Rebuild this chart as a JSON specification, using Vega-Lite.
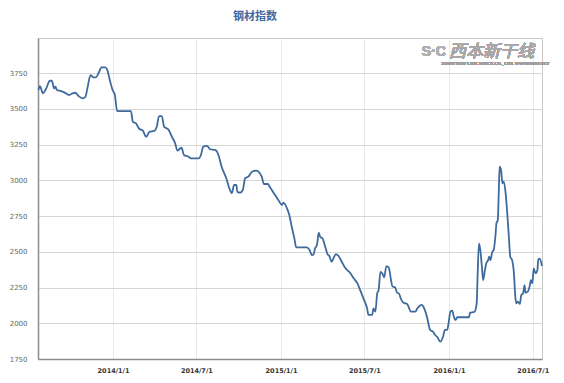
{
  "$schema": "https://vega.github.io/schema/vega-lite/v6.json",
  "autosize": "none",
  "width": 504,
  "height": 321,
  "padding": {"left": 38, "top": 38, "right": 22, "bottom": 24},
  "background": "white",
  "title": {"text": "钢材指数", "anchor": "middle", "frame": "group", "dx": -35, "offset": 16, "fontSize": 11, "font": "Noto Sans CJK SC", "fontWeight": "bold", "color": "#3d6a9f"},
  "config": {"view": {"stroke": "#c8c8c8", "strokeWidth": 1}},
  "data": {"values": [
    {"date": "2013-07-23", "value": 3631}, {"date": "2013-07-26", "value": 3659}, {"date": "2013-08-02", "value": 3608},
    {"date": "2013-08-08", "value": 3636}, {"date": "2013-08-17", "value": 3696}, {"date": "2013-08-21", "value": 3696},
    {"date": "2013-08-26", "value": 3643}, {"date": "2013-08-29", "value": 3654}, {"date": "2013-09-01", "value": 3631},
    {"date": "2013-09-10", "value": 3624}, {"date": "2013-09-17", "value": 3615}, {"date": "2013-09-28", "value": 3596},
    {"date": "2013-10-05", "value": 3608}, {"date": "2013-10-11", "value": 3612}, {"date": "2013-10-18", "value": 3589},
    {"date": "2013-10-27", "value": 3573}, {"date": "2013-11-02", "value": 3584}, {"date": "2013-11-07", "value": 3654},
    {"date": "2013-11-13", "value": 3736}, {"date": "2013-11-19", "value": 3720}, {"date": "2013-11-25", "value": 3720},
    {"date": "2013-12-01", "value": 3752}, {"date": "2013-12-07", "value": 3790}, {"date": "2013-12-15", "value": 3790},
    {"date": "2013-12-19", "value": 3776}, {"date": "2013-12-25", "value": 3701}, {"date": "2013-12-31", "value": 3631},
    {"date": "2014-01-05", "value": 3596}, {"date": "2014-01-10", "value": 3484}, {"date": "2014-02-09", "value": 3484},
    {"date": "2014-02-13", "value": 3409}, {"date": "2014-02-20", "value": 3398}, {"date": "2014-02-26", "value": 3363},
    {"date": "2014-03-07", "value": 3346}, {"date": "2014-03-14", "value": 3304}, {"date": "2014-03-21", "value": 3339},
    {"date": "2014-04-01", "value": 3346}, {"date": "2014-04-06", "value": 3374}, {"date": "2014-04-11", "value": 3449},
    {"date": "2014-04-17", "value": 3449}, {"date": "2014-04-22", "value": 3374}, {"date": "2014-05-01", "value": 3356},
    {"date": "2014-05-09", "value": 3304}, {"date": "2014-05-16", "value": 3258}, {"date": "2014-05-21", "value": 3207},
    {"date": "2014-05-27", "value": 3223}, {"date": "2014-05-30", "value": 3228}, {"date": "2014-06-04", "value": 3177},
    {"date": "2014-06-14", "value": 3165}, {"date": "2014-06-19", "value": 3153}, {"date": "2014-07-06", "value": 3153},
    {"date": "2014-07-11", "value": 3177}, {"date": "2014-07-16", "value": 3235}, {"date": "2014-07-24", "value": 3240},
    {"date": "2014-07-31", "value": 3217}, {"date": "2014-08-11", "value": 3212}, {"date": "2014-08-18", "value": 3177},
    {"date": "2014-08-25", "value": 3095}, {"date": "2014-09-04", "value": 3014}, {"date": "2014-09-12", "value": 2932},
    {"date": "2014-09-16", "value": 2909}, {"date": "2014-09-21", "value": 2967}, {"date": "2014-09-26", "value": 2967},
    {"date": "2014-09-28", "value": 2920}, {"date": "2014-10-04", "value": 2913}, {"date": "2014-10-10", "value": 2932},
    {"date": "2014-10-15", "value": 3014}, {"date": "2014-10-22", "value": 3025}, {"date": "2014-10-30", "value": 3060},
    {"date": "2014-11-08", "value": 3067}, {"date": "2014-11-13", "value": 3060}, {"date": "2014-11-20", "value": 3025},
    {"date": "2014-11-25", "value": 2974}, {"date": "2014-12-03", "value": 2974}, {"date": "2014-12-08", "value": 2951},
    {"date": "2014-12-19", "value": 2897}, {"date": "2014-12-27", "value": 2857}, {"date": "2015-01-03", "value": 2827},
    {"date": "2015-01-06", "value": 2843}, {"date": "2015-01-14", "value": 2804}, {"date": "2015-01-19", "value": 2757},
    {"date": "2015-01-25", "value": 2664}, {"date": "2015-01-30", "value": 2594}, {"date": "2015-02-03", "value": 2531},
    {"date": "2015-02-26", "value": 2531}, {"date": "2015-03-04", "value": 2512}, {"date": "2015-03-09", "value": 2477},
    {"date": "2015-03-13", "value": 2484}, {"date": "2015-03-16", "value": 2524}, {"date": "2015-03-20", "value": 2547},
    {"date": "2015-03-24", "value": 2633}, {"date": "2015-03-27", "value": 2605}, {"date": "2015-04-01", "value": 2594},
    {"date": "2015-04-07", "value": 2535}, {"date": "2015-04-12", "value": 2484}, {"date": "2015-04-16", "value": 2470},
    {"date": "2015-04-21", "value": 2430}, {"date": "2015-04-25", "value": 2454}, {"date": "2015-04-30", "value": 2484},
    {"date": "2015-05-06", "value": 2470}, {"date": "2015-05-13", "value": 2430}, {"date": "2015-05-21", "value": 2384},
    {"date": "2015-05-31", "value": 2353}, {"date": "2015-06-08", "value": 2314}, {"date": "2015-06-16", "value": 2279},
    {"date": "2015-06-22", "value": 2232}, {"date": "2015-06-29", "value": 2174}, {"date": "2015-07-07", "value": 2104},
    {"date": "2015-07-10", "value": 2058}, {"date": "2015-07-18", "value": 2058}, {"date": "2015-07-21", "value": 2104},
    {"date": "2015-07-25", "value": 2081}, {"date": "2015-07-29", "value": 2209}, {"date": "2015-08-01", "value": 2232},
    {"date": "2015-08-05", "value": 2360}, {"date": "2015-08-11", "value": 2337}, {"date": "2015-08-13", "value": 2321},
    {"date": "2015-08-18", "value": 2400}, {"date": "2015-08-23", "value": 2391}, {"date": "2015-08-28", "value": 2302},
    {"date": "2015-08-31", "value": 2258}, {"date": "2015-09-06", "value": 2251}, {"date": "2015-09-10", "value": 2214},
    {"date": "2015-09-14", "value": 2209}, {"date": "2015-09-19", "value": 2167}, {"date": "2015-09-24", "value": 2144},
    {"date": "2015-10-02", "value": 2135}, {"date": "2015-10-05", "value": 2116}, {"date": "2015-10-10", "value": 2081},
    {"date": "2015-10-20", "value": 2081}, {"date": "2015-10-24", "value": 2104}, {"date": "2015-10-29", "value": 2121},
    {"date": "2015-11-03", "value": 2128}, {"date": "2015-11-08", "value": 2104}, {"date": "2015-11-14", "value": 2046},
    {"date": "2015-11-21", "value": 1953}, {"date": "2015-11-27", "value": 1941}, {"date": "2015-12-02", "value": 1918},
    {"date": "2015-12-07", "value": 1902}, {"date": "2015-12-13", "value": 1871}, {"date": "2015-12-19", "value": 1906},
    {"date": "2015-12-23", "value": 1953}, {"date": "2015-12-28", "value": 1953}, {"date": "2015-12-31", "value": 2000},
    {"date": "2016-01-04", "value": 2081}, {"date": "2016-01-08", "value": 2088}, {"date": "2016-01-11", "value": 2051},
    {"date": "2016-01-15", "value": 2023}, {"date": "2016-01-19", "value": 2042}, {"date": "2016-02-13", "value": 2042},
    {"date": "2016-02-16", "value": 2074}, {"date": "2016-02-25", "value": 2079}, {"date": "2016-03-01", "value": 2135},
    {"date": "2016-03-03", "value": 2325}, {"date": "2016-03-06", "value": 2559}, {"date": "2016-03-09", "value": 2512},
    {"date": "2016-03-13", "value": 2372}, {"date": "2016-03-15", "value": 2302}, {"date": "2016-03-19", "value": 2372},
    {"date": "2016-03-22", "value": 2419}, {"date": "2016-03-26", "value": 2442}, {"date": "2016-03-28", "value": 2465},
    {"date": "2016-03-31", "value": 2442}, {"date": "2016-04-04", "value": 2500}, {"date": "2016-04-07", "value": 2512},
    {"date": "2016-04-11", "value": 2617}, {"date": "2016-04-13", "value": 2699}, {"date": "2016-04-16", "value": 2722},
    {"date": "2016-04-18", "value": 2909}, {"date": "2016-04-20", "value": 3095}, {"date": "2016-04-23", "value": 3072},
    {"date": "2016-04-26", "value": 2979}, {"date": "2016-04-29", "value": 2991}, {"date": "2016-05-03", "value": 2909},
    {"date": "2016-05-06", "value": 2792}, {"date": "2016-05-10", "value": 2605}, {"date": "2016-05-13", "value": 2465},
    {"date": "2016-05-17", "value": 2442}, {"date": "2016-05-21", "value": 2349}, {"date": "2016-05-24", "value": 2186},
    {"date": "2016-05-26", "value": 2139}, {"date": "2016-05-30", "value": 2151}, {"date": "2016-06-03", "value": 2135},
    {"date": "2016-06-06", "value": 2198}, {"date": "2016-06-10", "value": 2209}, {"date": "2016-06-13", "value": 2267},
    {"date": "2016-06-15", "value": 2214}, {"date": "2016-06-20", "value": 2221}, {"date": "2016-06-24", "value": 2256},
    {"date": "2016-06-27", "value": 2302}, {"date": "2016-06-30", "value": 2279}, {"date": "2016-07-03", "value": 2384},
    {"date": "2016-07-07", "value": 2349}, {"date": "2016-07-11", "value": 2372}, {"date": "2016-07-13", "value": 2447},
    {"date": "2016-07-16", "value": 2451}, {"date": "2016-07-21", "value": 2400}
  ]},
  "layer": [
    {
      "mark": {"type": "line", "color": "#3f6a9d", "strokeWidth": 1.8, "interpolate": "monotone"},
      "encoding": {
        "x": {
          "field": "date", "type": "temporal",
          "scale": {"type": "utc", "domain": [{"year": 2013, "month": 7, "date": 22, "utc": true}, {"year": 2016, "month": 7, "date": 21, "utc": true}]},
          "axis": {
            "title": null,
            "values": [
              {"year": 2014, "month": 1, "date": 1, "utc": true},
              {"year": 2014, "month": 7, "date": 1, "utc": true},
              {"year": 2015, "month": 1, "date": 1, "utc": true},
              {"year": 2015, "month": 7, "date": 1, "utc": true},
              {"year": 2016, "month": 1, "date": 1, "utc": true},
              {"year": 2016, "month": 7, "date": 1, "utc": true}
            ],
            "labelExpr": "utcFormat(datum.value, '%Y/%-m/%-d')",
            "grid": true, "gridColor": "#e8e8e8", "gridWidth": 1,
            "ticks": false, "labelPadding": 8,
            "labelFont": "DejaVu Sans", "labelFontSize": 6.5, "labelFontWeight": "bold", "labelColor": "#333333",
            "domainColor": "#8c8c8c", "domainWidth": 1.5
          }
        },
        "y": {
          "field": "value", "type": "quantitative",
          "scale": {"domain": [1750, 3995], "nice": false, "zero": false},
          "axis": {
            "title": null,
            "values": [1750, 2000, 2250, 2500, 2750, 3000, 3250, 3500, 3750],
            "format": "d",
            "grid": true, "gridColor": "#d6d6d6", "gridWidth": 1,
            "ticks": false, "labelPadding": 11,
            "labelFont": "DejaVu Sans", "labelFontSize": 7, "labelColor": "#666666",
            "domainColor": "#8c8c8c", "domainWidth": 1.5
          }
        }
      }
    },
    {
      "mark": {"type": "text", "text": "西本新干线", "font": "Noto Sans CJK SC", "fontSize": 17, "fontStyle": "italic", "color": "#a8a8a8", "align": "left", "baseline": "middle"},
      "encoding": {
        "x": {"datum": {"year": 2016, "month": 1, "date": 1, "utc": true}, "type": "temporal"},
        "y": {"datum": 3900, "type": "quantitative"}
      }
    },
    {
      "mark": {"type": "text", "text": "XIBEN NEW LINE STOCK CO., LTD.    WWW.96369.NET", "font": "Liberation Serif", "fontSize": 4.5, "color": "#a0a0a0", "align": "left", "baseline": "middle"},
      "encoding": {
        "x": {"datum": {"year": 2015, "month": 12, "date": 15, "utc": true}, "type": "temporal"},
        "y": {"datum": 3815, "type": "quantitative"}
      }
    },
    {
      "mark": {"type": "text", "text": "S·C", "font": "Liberation Sans", "fontSize": 14, "fontWeight": "bold", "color": "#b0b0b0", "align": "left", "baseline": "middle"},
      "encoding": {
        "x": {"datum": {"year": 2015, "month": 11, "date": 3, "utc": true}, "type": "temporal"},
        "y": {"datum": 3900, "type": "quantitative"}
      }
    }
  ]
}
